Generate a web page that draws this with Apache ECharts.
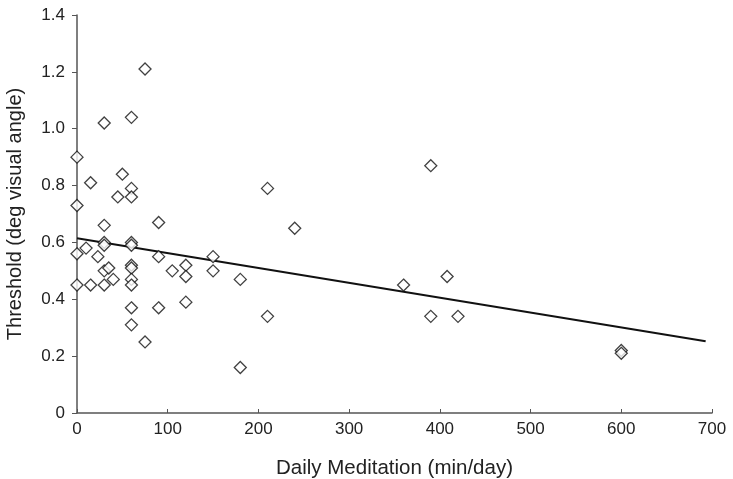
<!DOCTYPE html>
<html>
<head>
<meta charset="utf-8">
<script src="https://cdn.jsdelivr.net/npm/echarts@6/dist/echarts.min.js"></script>
<style>
  html, body { margin: 0; padding: 0; background: #fff; }
  #main { width: 733px; height: 479px; }
</style>
</head>
<body>
<div id="main"></div>
<script>
// minutes per day vs threshold
const minutes = [
  0, 0, 0, 0, 10, 15, 15, 23,
  30, 30, 30, 30, 30, 30, 35, 40, 45, 50,
  60, 60, 60, 60, 60, 60, 60, 60, 60, 60, 60,
  75, 75, 90, 90, 90, 105, 120, 120, 120, 150, 150,
  180, 180, 210, 210, 240, 360, 390, 390, 408, 420, 600, 600
];
const threshold = [
  0.90, 0.73, 0.56, 0.45, 0.58, 0.81, 0.45, 0.55,
  1.02, 0.66, 0.60, 0.59, 0.50, 0.45, 0.51, 0.47, 0.76, 0.84,
  1.04, 0.79, 0.76, 0.60, 0.59, 0.52, 0.51, 0.47, 0.45, 0.37, 0.31,
  1.21, 0.25, 0.67, 0.55, 0.37, 0.50, 0.52, 0.48, 0.39, 0.55, 0.50,
  0.47, 0.16, 0.79, 0.34, 0.65, 0.45, 0.87, 0.34, 0.48, 0.34, 0.22, 0.21
];
// regression line end points
const fitX = [0, 693];
const fitY = [0.615, 0.252];

const points = minutes.map((m, i) => [m, threshold[i]]);
const fitLine = fitX.map((x, i) => [x, fitY[i]]);

const myChart = echarts.init(document.getElementById("main"), null, { renderer: "canvas" });
const axisColor = "#555";
const fontFamily = "Liberation Sans, Arial, sans-serif";
const labelStyle = { color: "#222", fontSize: 17, fontFamily: fontFamily };

const option = {
  animation: false,
  grid: { left: 77, right: 21, top: 15, bottom: 66, containLabel: false, outerBoundsMode: "none" },
  xAxis: {
    type: "value",
    min: 0,
    max: 700,
    interval: 100,
    name: "Daily Meditation (min/day)",
    nameLocation: "middle",
    nameGap: 45,
    nameTextStyle: { color: "#222", fontSize: 20.5, fontFamily: fontFamily },
    axisLine: { lineStyle: { color: axisColor, width: 1.5 } },
    axisTick: { show: true, inside: true, length: 4, lineStyle: { color: axisColor } },
    axisLabel: Object.assign({ margin: 8 }, labelStyle),
    splitLine: { show: false }
  },
  yAxis: {
    type: "value",
    min: 0,
    max: 1.4,
    interval: 0.2,
    name: "Threshold (deg visual angle)",
    nameLocation: "middle",
    nameGap: 52,
    nameTextStyle: { color: "#222", fontSize: 20, fontFamily: fontFamily },
    axisLine: { show: true, lineStyle: { color: axisColor, width: 1.5 } },
    axisTick: { show: true, length: 5, lineStyle: { color: axisColor } },
    axisLabel: Object.assign({
      margin: 12,
      formatter: (v) => (v === 0 ? "0" : v.toFixed(1))
    }, labelStyle),
    splitLine: { show: false }
  },
  series: [
    {
      type: "line",
      data: fitLine,
      symbol: "none",
      lineStyle: { color: "#111", width: 2 },
      z: 1
    },
    {
      type: "scatter",
      data: points,
      symbol: "diamond",
      symbolSize: 12,
      itemStyle: { color: "#fff", borderColor: "#111", borderWidth: 1.3 },
      z: 2
    }
  ]
};

myChart.setOption(option);
</script>
</body>
</html>
